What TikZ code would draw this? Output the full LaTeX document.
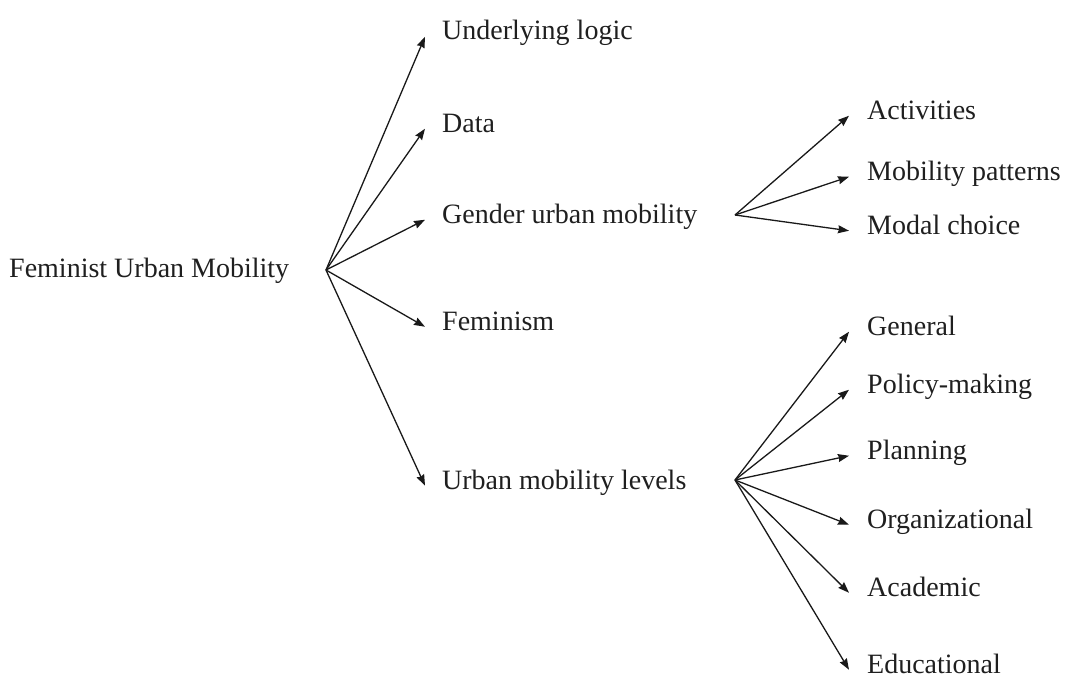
\documentclass[tikz,border=0pt]{standalone}
\usepackage{fontspec}
\setmainfont{Liberation Serif}
\usetikzlibrary{arrows.meta}
\begin{document}
\begin{tikzpicture}[x=1pt,y=-1pt,
  lbl/.style={inner sep=0pt, anchor=base west, font=\fontsize{28}{34}\selectfont,
    text height=0.7em, text depth=0.05em, text=black!88},
  arr/.style={-{Stealth[length=11pt,width=8pt,inset=1pt]}, line width=1.3pt, draw=black!90}]
\useasboundingbox (0,0) rectangle (1066,677);
% root
\node[lbl] (root) at (9,277) {Feminist Urban Mobility};
\coordinate (r) at (326,270);
% level 1
\node[lbl] (ul) at (442,40) {Underlying logic};
\node[lbl] (da) at (442,132) {Data};
\node[lbl] (gum) at (442,223) {Gender urban mobility};
\node[lbl] (fe) at (442,330) {Feminism};
\node[lbl] (uml) at (442,489) {Urban mobility levels};
\foreach \c in {ul,da,gum,fe,uml}
  \draw[arr] (r) -- ([xshift=-17pt]\c.west);
% gender branch
\coordinate (g) at (735,215);
\node[lbl] (act) at (867,119) {Activities};
\node[lbl] (mp) at (867,180) {Mobility patterns};
\node[lbl] (mc) at (867,234) {Modal choice};
\foreach \c in {act,mp,mc}
  \draw[arr] (g) -- ([xshift=-18pt]\c.west);
% levels branch
\coordinate (u) at (735,480);
\node[lbl] (gen) at (867,335) {General};
\node[lbl] (pol) at (867,393) {Policy-making};
\node[lbl] (pla) at (867,459) {Planning};
\node[lbl] (org) at (867,528) {Organizational};
\node[lbl] (aca) at (867,596) {Academic};
\node[lbl] (edu) at (867,673) {Educational};
\foreach \c in {gen,pol,pla,org,aca,edu}
  \draw[arr] (u) -- ([xshift=-18pt]\c.west);
\end{tikzpicture}
\end{document}
